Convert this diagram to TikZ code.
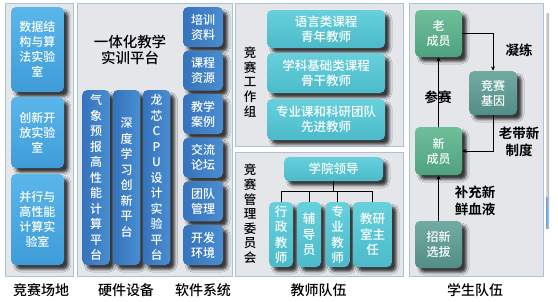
\documentclass[tikz,border=0pt]{standalone}
\usepackage{fontspec}
\setmainfont{Noto Sans CJK SC}[BoldFont={Noto Sans CJK SC Bold}]
\newfontfamily\cjkmed{Noto Sans CJK SC Medium}
\usetikzlibrary{shadows.blur, arrows.meta}
\definecolor{panelfill}{HTML}{E4E6EA}
\definecolor{paneldraw}{HTML}{A9C3D8}
\definecolor{fieldA}{HTML}{5AB6EA}
\definecolor{fieldB}{HTML}{3F9CD8}
\definecolor{hwA}{HTML}{3573BC}
\definecolor{hwB}{HTML}{4A8DD0}
\definecolor{tcA}{HTML}{66D1DC}
\definecolor{tcB}{HTML}{4CBACA}
\definecolor{stgA}{HTML}{6EC09A}
\definecolor{stgB}{HTML}{4FA27F}
\definecolor{sttA}{HTML}{72ABA2}
\definecolor{sttB}{HTML}{528E86}
\tikzset{
  panel/.style={draw=paneldraw, fill=panelfill, line width=0.9pt},
  boxbase/.style={rounded corners=5pt, inner sep=0pt, align=center, text=white,
    font=\cjkmed\fontsize{12}{15}\selectfont,
    blur shadow={shadow xshift=4.5pt, shadow yshift=-4.5pt, shadow blur steps=4,
      shadow blur radius=2.5pt, shadow opacity=75}},
  fieldbox/.style={boxbase, top color=fieldA, bottom color=fieldB, minimum width=53pt},
  hwbox/.style={boxbase, left color=hwA, right color=hwB, minimum width=27.5pt, minimum height=175pt,
    font=\cjkmed\fontsize{12}{15.5}\selectfont},
  swbox/.style={boxbase, left color=hwA, right color=hwB, minimum width=40pt, minimum height=40pt},
  tcbox/.style={boxbase, top color=tcA, bottom color=tcB, font=\cjkmed\fontsize{12.5}{15.5}\selectfont},
  sgbox/.style={boxbase, top color=stgA, bottom color=stgB, minimum width=47pt, minimum height=47pt},
  stbox/.style={boxbase, top color=sttA, bottom color=sttB, minimum width=47pt, minimum height=47pt},
  vlabel/.style={align=center, inner sep=0pt, font=\cjkmed\fontsize{12.5}{14.6}\selectfont},
  blabel/.style={inner sep=0pt, font=\cjkmed\fontsize{14}{16}\selectfont},
  slabel/.style={align=center, inner sep=0pt, font=\bfseries\fontsize{13.5}{16.5}\selectfont},
  conn/.style={line width=1pt, black},
  arr/.style={conn, -{Stealth[length=4.5pt,width=4pt]}}
}
\begin{document}
\begin{tikzpicture}[x=1pt, y=-1pt]
\useasboundingbox (0,0) rectangle (558,301);
% panels
\draw[panel] (5,3) rectangle (73,276);
\draw[panel] (77,3) rectangle (232,276);
\draw[panel] (235,3) rectangle (403,146);
\draw[panel] (235,152) rectangle (403,276);
\draw[panel] (409,3) rectangle (543,276);
% right-edge remnants
\shade[left color=gray!30, right color=gray!60] (546,13) rectangle (549,196);
\shade[left color=hwB!80, right color=hwA!40] (546,197) rectangle (549,228);

% field
\node[fieldbox, minimum height=85pt] (f1) at (37.5,49.5) {数据结\\构与算\\法实验\\室};
\node[fieldbox, minimum height=71pt] (f2) at (37.5,132.5) {创新开\\放实验\\室};
\node[fieldbox, minimum height=91pt] (f3) at (37.5,219.5) {并行与\\高性能\\计算实\\验室};

% hardware
\node[align=center, inner sep=0pt, font=\cjkmed\fontsize{14.5}{16.5}\selectfont] (title) at (130,50) {一体化教学\\实训平台};
\node[hwbox] (h1) at (96,177.5) {气\\象\\预\\报\\高\\性\\能\\计\\算\\平\\台};
\node[hwbox] (h2) at (126.5,177.5) {深\\度\\学\\习\\创\\新\\平\\台};
\node[hwbox] (h3) at (156.5,177.5) {龙\\芯\\C\\P\\U\\设\\计\\实\\验\\平\\台};

% software
\node[swbox] (w1) at (203,27) {培训\\资料};
\node[swbox] (w2) at (203,70.6) {课程\\资源};
\node[swbox] (w3) at (203,114.2) {教学\\案例};
\node[swbox] (w4) at (203,157.8) {交流\\论坛};
\node[swbox] (w5) at (203,201.4) {团队\\管理};
\node[swbox] (w6) at (203,245) {开发\\环境};

% teachers, working group
\node[vlabel] (wg) at (250,82) {竞\\赛\\工\\作\\组};
\node[tcbox, minimum width=118pt, minimum height=38pt] (t1) at (326,29) {语言类课程\\青年教师};
\node[tcbox, minimum width=118pt, minimum height=40pt] (t2) at (326,73) {学科基础类课程\\骨干教师};
\node[tcbox, minimum width=118pt, minimum height=41pt] (t3) at (326,119.5) {专业课和科研团队\\先进教师};

% teachers, committee
\node[vlabel] (cm) at (250,214) {竞\\赛\\管\\理\\委\\员\\会};
\node[tcbox, minimum width=99pt, minimum height=24pt] (lead) at (333.5,169) {学院领导};
\node[tcbox, minimum width=24pt, minimum height=65pt] (b1) at (281,234.5) {行\\政\\教\\师};
\node[tcbox, minimum width=24pt, minimum height=65pt] (b2) at (309,234.5) {辅\\导\\员};
\node[tcbox, minimum width=24pt, minimum height=65pt] (b3) at (337.5,234.5) {专\\业\\教\\师};
\node[tcbox, minimum width=39pt, minimum height=65pt] (b4) at (372.5,234.5) {教研\\室主\\任};
\coordinate (bus) at (333.5,191);
\draw[conn] (lead.south) -- (bus);
\draw[conn] (bus) -| (b1.north);
\draw[conn] (bus) -| (b2.north);
\draw[conn] (bus) -| (b3.north);
\draw[conn] (bus) -| (b4.north);

% students
\node[sgbox] (s1) at (438.5,33.5) {老\\成员};
\node[stbox, minimum width=48pt, minimum height=44pt] (s2) at (493,93) {竞赛\\基因};
\node[sgbox, minimum height=48pt] (s3) at (438.5,151) {新\\成员};
\node[stbox] (s4) at (438.5,244.5) {招新\\选拔};
\draw[arr] (s1.east) -| (s2.north);
\draw[arr] (s3.north) -- (s1.south);
\draw[arr] (s2.south) |- (s3.east);
\draw[arr] (s4.north) -- (s3.south);
\node[slabel] (l1) at (519,50) {凝练};
\node[slabel] (l2) at (438,97) {参赛};
\node[slabel] (l3) at (519,142) {老带新\\制度};
\node[slabel] (l4) at (475,201) {补充新\\鲜血液};

% bottom labels
\node[blabel] (c1) at (41,290) {竞赛场地};
\node[blabel] (c2) at (126,290) {硬件设备};
\node[blabel] (c3) at (203,290) {软件系统};
\node[blabel] (c4) at (318.5,290) {教师队伍};
\node[blabel] (c5) at (475,290) {学生队伍};
\end{tikzpicture}
\end{document}
